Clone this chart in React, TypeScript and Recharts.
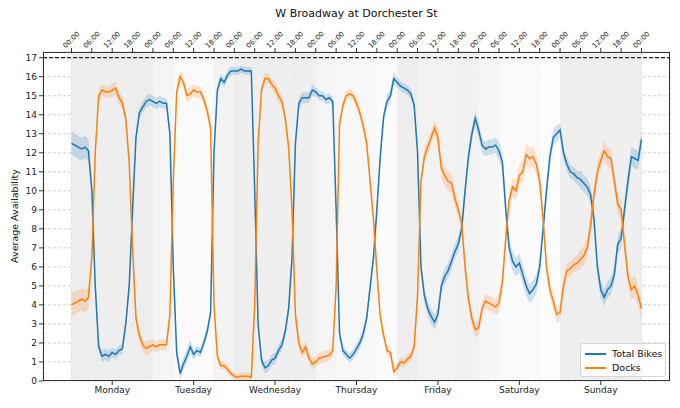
import React from "react";
import { ComposedChart, Line, Area, XAxis, YAxis, CartesianGrid, ReferenceArea, ReferenceLine } from "recharts";

document.body.style.margin = "0";

const FONT = "'DejaVu Sans', sans-serif";

const dayNames = ["Monday", "Tuesday", "Wednesday", "Thursday", "Friday", "Saturday", "Sunday"];
const hourLabels = ["00:00", "06:00", "12:00", "18:00"];
const hourTicks = [0, 6, 12, 18, 24, 30, 36, 42, 48, 54, 60, 66, 72, 78, 84, 90, 96, 102, 108, 114, 120, 126, 132, 138, 144, 150, 156, 162, 168];
const dayTicks = [12, 36, 60, 84, 108, 132, 156];
const yTicks = [0, 1, 2, 3, 4, 5, 6, 7, 8, 9, 10, 11, 12, 13, 14, 15, 16, 17];
const capacity = 17;

// hourly means, Monday 00:00 .. next Monday 00:00
const bikes = [
  12.5, 12.4, 12.3, 12.2, 12.3, 12.1, 10.0, 5.0, 1.8, 1.3, 1.4, 1.3, 1.5, 1.4, 1.6, 1.7, 3.0, 5.0, 9.0, 12.8, 14.1, 14.4, 14.7, 14.8,
  14.7, 14.6, 14.7, 14.6, 14.6, 13.0, 6.0, 1.5, 0.4, 0.9, 1.3, 1.8, 1.4, 1.6, 1.5, 2.0, 2.6, 3.6, 12.0, 15.3, 15.9, 15.7, 16.1, 16.3,
  16.3, 16.3, 16.4, 16.3, 16.3, 16.3, 10.0, 3.0, 1.1, 0.7, 0.8, 1.1, 1.2, 1.6, 1.9, 2.6, 3.8, 6.5, 12.5, 14.6, 14.9, 14.9, 14.9, 15.3,
  15.2, 15.0, 15.0, 14.8, 14.9, 14.7, 9.0, 2.5, 1.6, 1.4, 1.2, 1.4, 1.7, 2.0, 2.5, 3.3, 4.9, 6.5, 9.0, 11.8, 13.9, 14.7, 15.0, 15.9,
  15.7, 15.5, 15.4, 15.3, 15.1, 14.5, 12.0, 6.0, 4.5, 3.8, 3.4, 3.1, 3.5, 5.0, 5.5, 5.8, 6.3, 6.8, 7.2, 8.0, 10.0, 11.8, 13.0, 13.8,
  13.2, 12.4, 12.2, 12.3, 12.3, 12.4, 12.1, 11.5, 9.0, 7.0, 6.3, 6.0, 6.2, 5.6, 5.0, 4.6, 4.8, 5.1, 6.0, 8.0, 10.0, 11.8, 12.8, 13.0,
  13.2, 12.0, 11.4, 11.0, 10.9, 10.7, 10.6, 10.4, 10.2, 9.8, 8.5, 6.0, 4.8, 4.4, 4.8, 5.0, 5.6, 7.2, 7.5, 9.0, 10.5, 11.8, 11.7, 11.6, 12.7,
];

const docks = [
  4.0, 4.1, 4.2, 4.3, 4.2, 4.4, 6.5, 12.0, 15.0, 15.3, 15.2, 15.2, 15.3, 15.4, 14.9, 14.6, 13.8, 11.5, 7.0, 3.3, 2.4, 1.9, 1.7, 1.8,
  1.9, 1.8, 1.9, 1.9, 1.9, 3.5, 10.5, 15.2, 16.0, 15.7, 15.0, 15.1, 15.3, 15.2, 15.2, 14.8, 14.2, 13.3, 4.0, 1.3, 0.8, 0.8, 0.6, 0.4,
  0.25, 0.2, 0.25, 0.25, 0.25, 0.2, 4.0, 12.5, 15.3, 15.9, 15.9, 15.6, 15.4, 15.0, 14.7, 13.8, 12.3, 9.0, 3.5, 2.0, 1.5, 1.8, 1.2, 0.9,
  1.0, 1.2, 1.25, 1.3, 1.35, 1.6, 5.0, 13.5, 14.5, 15.0, 15.1, 15.0, 14.6, 14.1, 13.4, 12.5, 10.5, 8.5, 5.8, 3.4, 2.4, 1.6, 1.5, 0.5,
  0.7, 1.0, 0.95, 1.15, 1.3, 1.8, 4.5, 10.5, 11.8, 12.3, 12.8, 13.3, 12.8, 11.2, 10.8, 10.5, 10.4, 9.6, 9.0, 8.3, 6.0, 4.3, 3.3, 2.7,
  2.8, 3.8, 4.2, 4.1, 4.0, 3.9, 4.1, 5.2, 7.5, 9.5, 10.2, 10.0, 10.8, 11.0, 11.9, 11.7, 11.8, 11.4, 10.5, 8.5, 6.0, 4.8, 4.2, 3.5,
  3.6, 5.0, 5.8, 5.9, 6.1, 6.2, 6.4, 6.6, 7.0, 8.2, 9.8, 11.0, 11.6, 12.1, 11.8, 11.7, 10.5, 9.3, 9.0, 7.2, 5.5, 4.8, 5.0, 4.5, 3.8,
];

// confidence half-widths per 6-hour block
const bikesCi = [
  0.6, 0.3, 0.25, 0.3, 0.3, 0.35, 0.25, 0.25, 0.2, 0.3, 0.3, 0.3, 0.25, 0.25,
  0.3, 0.35, 0.25, 0.4, 0.4, 0.4, 0.4, 0.5, 0.5, 0.45, 0.35, 0.45, 0.45, 0.5,
];
const docksCi = [
  0.6, 0.3, 0.35, 0.35, 0.3, 0.35, 0.3, 0.2, 0.2, 0.3, 0.35, 0.3, 0.3, 0.25,
  0.3, 0.3, 0.25, 0.4, 0.5, 0.4, 0.4, 0.5, 0.55, 0.45, 0.4, 0.5, 0.5, 0.55,
];

// background bands: night / day / evening of each day
const dayParts = [[0, 6], [6, 18], [18, 24]];
const shades = [
  ["#ededed", "#eeeeee", "#ededed"],
  ["#f5f5f5", "#fafafa", "#f3f3f3"],
  ["#eeeeee", "#efefef", "#efefef"],
  ["#f5f5f5", "#f7f7f7", "#fbfbfb"],
  ["#eeeeee", "#f2f2f2", "#f1f1f1"],
  ["#f6f6f6", "#fafafa", "#fcfcfc"],
  ["#eeeeee", "#efefef", "#efefef"],
];

const data = bikes.map((b, h) => {
  const blk = Math.min(27, Math.floor(h / 6));
  return {
    h,
    bikes: b,
    docks: docks[h],
    bikesBand: [b - bikesCi[blk], b + bikesCi[blk]],
    docksBand: [docks[h] - docksCi[blk], docks[h] + docksCi[blk]],
  };
});

const TopTick = (props: any) => {
  const { x, y, payload } = props;
  return (
    <text
      transform={`translate(${x},${y - 6}) rotate(-45)`}
      textAnchor="middle"
      dominantBaseline="central"
      fontSize={7}
      fontFamily={FONT}
      fill="#222"
    >
      {hourLabels[(payload.value / 6) % 4]}
    </text>
  );
};

const tickStyle = { fontSize: 9, fontFamily: FONT, fill: "#222" };

export default function App() {
  return (
    <div style={{ position: "relative", width: 680, height: 408, background: "#fff", fontFamily: FONT }}>
      <div style={{ position: "absolute", left: 43, width: 627, top: 7, textAlign: "center", fontSize: 11, color: "#111" }}>
        W Broadway at Dorchester St
      </div>
      <div
        style={{
          position: "absolute",
          left: 14,
          top: 216,
          transform: "translate(-50%, -50%) rotate(-90deg)",
          whiteSpace: "nowrap",
          fontSize: 9.5,
          color: "#111",
        }}
      >
        Average Availability
      </div>
      <ComposedChart width={680} height={408} data={data} margin={{ top: 12, right: 10, bottom: 0, left: 13 }}>
        <XAxis
          xAxisId="h"
          dataKey="h"
          type="number"
          orientation="top"
          domain={[-8.4, 176.4]}
          ticks={hourTicks}
          interval={0}
          height={40}
          tick={<TopTick />}
          tickSize={4}
          axisLine={false}
          tickLine={{ stroke: "#333" }}
        />
        <XAxis
          xAxisId="d"
          dataKey="h"
          type="number"
          orientation="bottom"
          domain={[-8.4, 176.4]}
          ticks={dayTicks}
          interval={0}
          height={27}
          tickFormatter={(v: number) => dayNames[(v - 12) / 24]}
          tick={tickStyle}
          tickSize={4}
          axisLine={false}
          tickLine={{ stroke: "#333" }}
        />
        <YAxis
          yAxisId="l"
          type="number"
          domain={[0, 17.3]}
          ticks={yTicks}
          interval={0}
          width={30}
          tick={tickStyle}
          tickSize={4}
          axisLine={false}
          tickLine={{ stroke: "#333" }}
        />
        {shades.map((row, d) =>
          dayParts.map(([a, b], p) => (
            <ReferenceArea
              key={`s${d}-${p}`}
              xAxisId="h"
              yAxisId="l"
              x1={d * 24 + a}
              x2={d * 24 + b}
              fill={row[p]}
              fillOpacity={1}
              stroke="none"
              ifOverflow="hidden"
            />
          ))
        )}
        <CartesianGrid xAxisId="h" yAxisId="l" strokeDasharray="3 2" stroke="#c4c4c4" strokeWidth={0.8} />
        <ReferenceLine xAxisId="h" yAxisId="l" y={capacity} stroke="#222" strokeDasharray="4 2" strokeWidth={1.2} />
        <Area xAxisId="h" yAxisId="l" type="linear" dataKey="bikesBand" stroke="none" fill="#1f77b4" fillOpacity={0.2} isAnimationActive={false} />
        <Area xAxisId="h" yAxisId="l" type="linear" dataKey="docksBand" stroke="none" fill="#ff7f0e" fillOpacity={0.2} isAnimationActive={false} />
        <Line xAxisId="h" yAxisId="l" type="linear" dataKey="bikes" stroke="#1f77b4" strokeWidth={1.5} dot={false} isAnimationActive={false} />
        <Line xAxisId="h" yAxisId="l" type="linear" dataKey="docks" stroke="#ff7f0e" strokeWidth={1.5} dot={false} isAnimationActive={false} />
      </ComposedChart>
      <div
        style={{
          position: "absolute",
          left: 43,
          top: 52,
          width: 627,
          height: 329,
          border: "1px solid #333",
          boxSizing: "border-box",
          pointerEvents: "none",
        }}
      />
      <div
        style={{
          position: "absolute",
          left: 580,
          top: 343,
          width: 86,
          height: 34,
          background: "rgba(255,255,255,0.85)",
          border: "1px solid #d6d6d6",
          borderRadius: 3,
          boxSizing: "border-box",
          fontSize: 9.5,
          color: "#111",
        }}
      >
        {[
          { name: "Total Bikes", color: "#1f77b4" },
          { name: "Docks", color: "#ff7f0e" },
        ].map((it, i) => (
          <div key={it.name} style={{ position: "absolute", left: 4, top: 3 + i * 14, height: 13, display: "flex", alignItems: "center" }}>
            <div style={{ width: 21, height: 2, background: it.color, marginRight: 6 }} />
            <span>{it.name}</span>
          </div>
        ))}
      </div>
    </div>
  );
}
